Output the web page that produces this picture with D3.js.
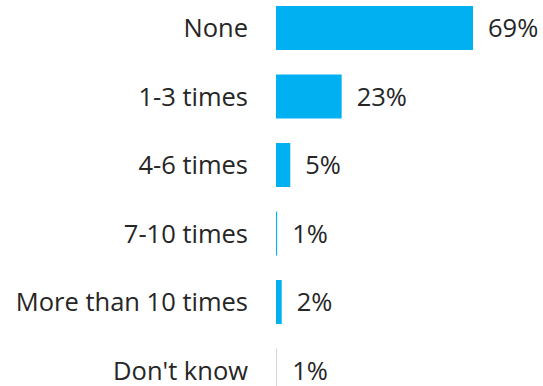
<!DOCTYPE html>
<html><head><meta charset="utf-8">
<script src="https://cdn.jsdelivr.net/npm/d3@7"></script>
<style>html,body{margin:0;padding:0;background:#fff;overflow:hidden}</style>
</head><body>
<svg id="chart" width="543" height="386"></svg>
<script>
const categories = ["None", "1-3 times", "4-6 times", "7-10 times", "More than 10 times", "Don't know"];
const values = [69, 23, 5, 0.4, 2, 0.4];
const valueLabels = ["69%", "23%", "5%", "1%", "2%", "1%"];
const barColors = ["#00B0F0", "#00B0F0", "#00B0F0", "#00B0F0", "#00B0F0", "#D9D9D9"];

const svg = d3.select("#chart");
const font = "'Open Sans', sans-serif";
const fs = 25.5;
const x = d3.scaleLinear().domain([0, 69]).range([276, 473]);
const y = d3.scaleBand().domain(categories).range([-6.25, 404.75]).paddingInner(0.358).paddingOuter(0.179);

const rows = svg.selectAll("g.row").data(categories).enter().append("g").attr("class", "row");

rows.append("rect")
  .attr("x", x(0))
  .attr("y", d => y(d))
  .attr("width", (d, i) => Math.max(1, x(values[i]) - x(0)))
  .attr("height", y.bandwidth())
  .attr("fill", (d, i) => barColors[i]);

rows.append("text")
  .attr("x", 248)
  .attr("y", d => y(d) + y.bandwidth() / 2)
  .attr("dy", "0.36em")
  .attr("text-anchor", "end")
  .attr("font-family", font)
  .attr("font-size", fs)
  .attr("fill", "#262626")
  .text(d => d);

rows.append("text")
  .attr("x", (d, i) => Math.max(x(values[i]), x(0) + 1) + 15)
  .attr("y", d => y(d) + y.bandwidth() / 2)
  .attr("dy", "0.36em")
  .attr("font-family", font)
  .attr("font-size", fs)
  .attr("fill", "#262626")
  .text((d, i) => valueLabels[i]);
</script>
</body></html>
